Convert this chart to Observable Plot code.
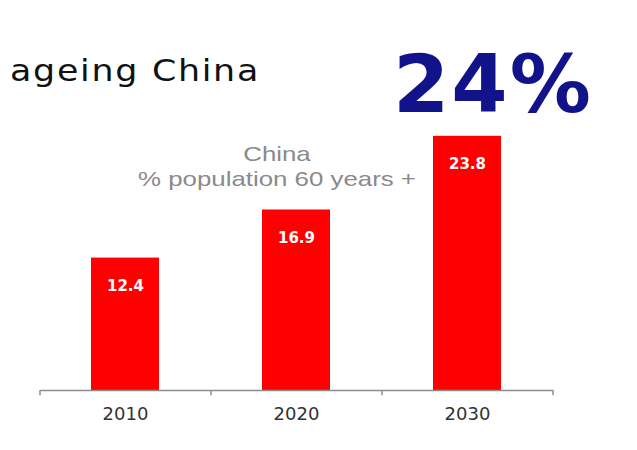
<!DOCTYPE html>
<html>
<head>
<meta charset="utf-8">
<script src="https://cdn.jsdelivr.net/npm/d3@7"></script>
<script src="https://cdn.jsdelivr.net/npm/@observablehq/plot@0.6"></script>
<style>
  html, body { margin: 0; padding: 0; background: #fff; }
  #wrap { position: relative; width: 637px; height: 450px; overflow: hidden; }
  #title { position: absolute; left: 10px; top: 53px; font-family: "DejaVu Sans", sans-serif; font-size: 30px; color: #111; letter-spacing: 1.5px; white-space: nowrap; transform: scaleX(1.16); transform-origin: 0 0; }
  #big { position: absolute; left: 393px; top: 44px; font-family: "DejaVu Sans", sans-serif; font-weight: bold; font-size: 81px; color: #12128a; white-space: nowrap; line-height: 1; letter-spacing: 2px; }
  #sub { position: absolute; left: 77px; width: 400px; top: 141px; text-align: center; font-family: "Liberation Sans", Arial, sans-serif; font-size: 21px; color: #8a8a8a; line-height: 25px; transform: scaleX(1.23); transform-origin: 200px 0; }
  #chart { position: absolute; left: 0; top: 0; }
</style>
</head>
<body>
<div id="wrap">
  <div id="chart"></div>
  <div id="title">ageing China</div>
  <div id="big">24%</div>
  <div id="sub">China<br>% population 60 years +</div>
</div>
<script>
const years = ["2010", "2020", "2030"];
const values = [12.4, 16.9, 23.8];
const data = years.map((y, i) => ({year: y, value: values[i]}));

const W = 637, H = 450, ML = 40, MR = 84;
const step = (W - ML - MR) / years.length;

const chart = Plot.plot({
  width: W,
  height: H,
  marginLeft: ML,
  marginRight: MR,
  marginTop: 123,
  marginBottom: 60,
  x: {domain: years, paddingInner: 0.6, paddingOuter: 0.3, align: 0.5},
  y: {domain: [0, 25], axis: null},
  style: {background: "transparent"},
  marks: [
    Plot.barY(data, {x: "year", y: "value", fill: "#ff0000"}),
    Plot.ruleY([0], {stroke: "#8c8c8c", strokeWidth: 1.5}),
    Plot.ruleX(years, {x: d => d, y1: 0, y2: -0.5, dx: -step / 2, stroke: "#8c8c8c", strokeWidth: 1.5}),
    Plot.ruleX([years[years.length - 1]], {x: d => d, y1: 0, y2: -0.5, dx: step / 2, stroke: "#8c8c8c", strokeWidth: 1.5}),
    Plot.text(data, {x: "year", y: "value", text: d => d.value.toFixed(1), dy: 28, fill: "white", fontWeight: "bold", fontSize: 15, fontFamily: "DejaVu Sans, sans-serif"}),
    Plot.axisX({tickSize: 0, tickPadding: 17, fontSize: 18, fontFamily: "DejaVu Sans, sans-serif", color: "#333", label: null})
  ]
});
document.getElementById("chart").appendChild(chart);
</script>
</body>
</html>
